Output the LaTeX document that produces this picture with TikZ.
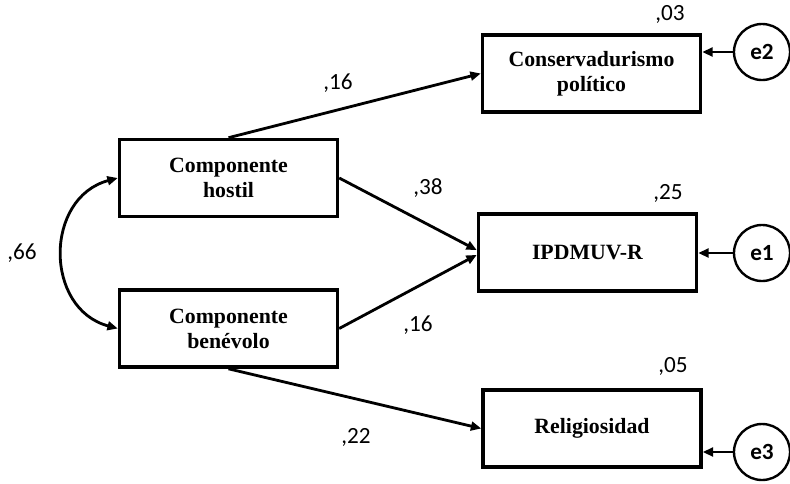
\documentclass[tikz,border=0pt]{standalone}
\usepackage{fontspec}
\setmainfont{Liberation Serif}
\newfontfamily\numfont{Carlito}
\usetikzlibrary{arrows.meta}

\tikzset{
    varbox/.style={draw, line width=2.4pt, minimum width=5.45cm, minimum height=1.93cm,
        inner sep=0pt, align=center, font=\fontsize{15.5}{17.8}\selectfont\bfseries},
    errcirc/.style={draw, circle, line width=1.7pt, minimum size=1.4cm, inner sep=0pt,
        font=\numfont\fontsize{16.5}{18}\selectfont\bfseries},
    reg/.style={line width=2pt, -{Triangle[length=2.6mm,width=2.2mm]}},
    coef/.style={font=\numfont\fontsize{16.5}{18}\selectfont},
}

\begin{document}
\begin{tikzpicture}[x=0.025cm, y=-0.025cm]

    \useasboundingbox (0,0) rectangle (790,483);

    % Exogenous variables
    \node[varbox] (hostil) at (228.5,178) {Componente\\hostil};
    \node[varbox] (benevolo) at (228.5,328.5) {Componente\\benévolo};

    % Endogenous variables
    \node[varbox] (conserv) at (591.5,73.5) {Conservadurismo\\político};
    \node[varbox] (ipdmuv) at (587.5,252.5) {IPDMUV-R};
    \node[varbox] (relig) at (592,428.5) {Religiosidad};

    % Error terms
    \node[errcirc] (e2) at (762,52) {e2};
    \node[errcirc] (e1) at (762,253) {e1};
    \node[errcirc] (e3) at (762,452) {e3};

    % Correlation
    \draw[line width=2pt, {Triangle[length=2.6mm,width=2.2mm]}-{Triangle[length=2.6mm,width=2.2mm]}]
        (hostil.west) to[out=195, in=165, looseness=1.3] (benevolo.west);
    \node[coef] (r66) at (22,253) {,66};

    % Paths
    \draw[reg] (hostil.north) -- (conserv.west);
    \draw[reg] (hostil.east) -- ([yshift=0.06cm]ipdmuv.west);
    \draw[reg] (benevolo.east) -- ([yshift=-0.06cm]ipdmuv.west);
    \draw[reg] (benevolo.south) -- (relig.west);

    % Residuals
    \draw[reg] (e2.west) -- (e2.west -| conserv.east);
    \draw[reg] (e1.west) -- (e1.west -| ipdmuv.east);
    \draw[reg] (e3.west) -- (e3.west -| relig.east);

    % Coefficients
    \node[coef] (b1) at (338,83) {,16};
    \node[coef] (b2) at (428,188) {,38};
    \node[coef] (b3) at (418,325) {,16};
    \node[coef] (b4) at (356,437) {,22};
    \node[coef] (r2) at (670,14) {,03};
    \node[coef] (r1) at (668,193) {,25};
    \node[coef] (r3) at (673,366) {,05};

\end{tikzpicture}
\end{document}
